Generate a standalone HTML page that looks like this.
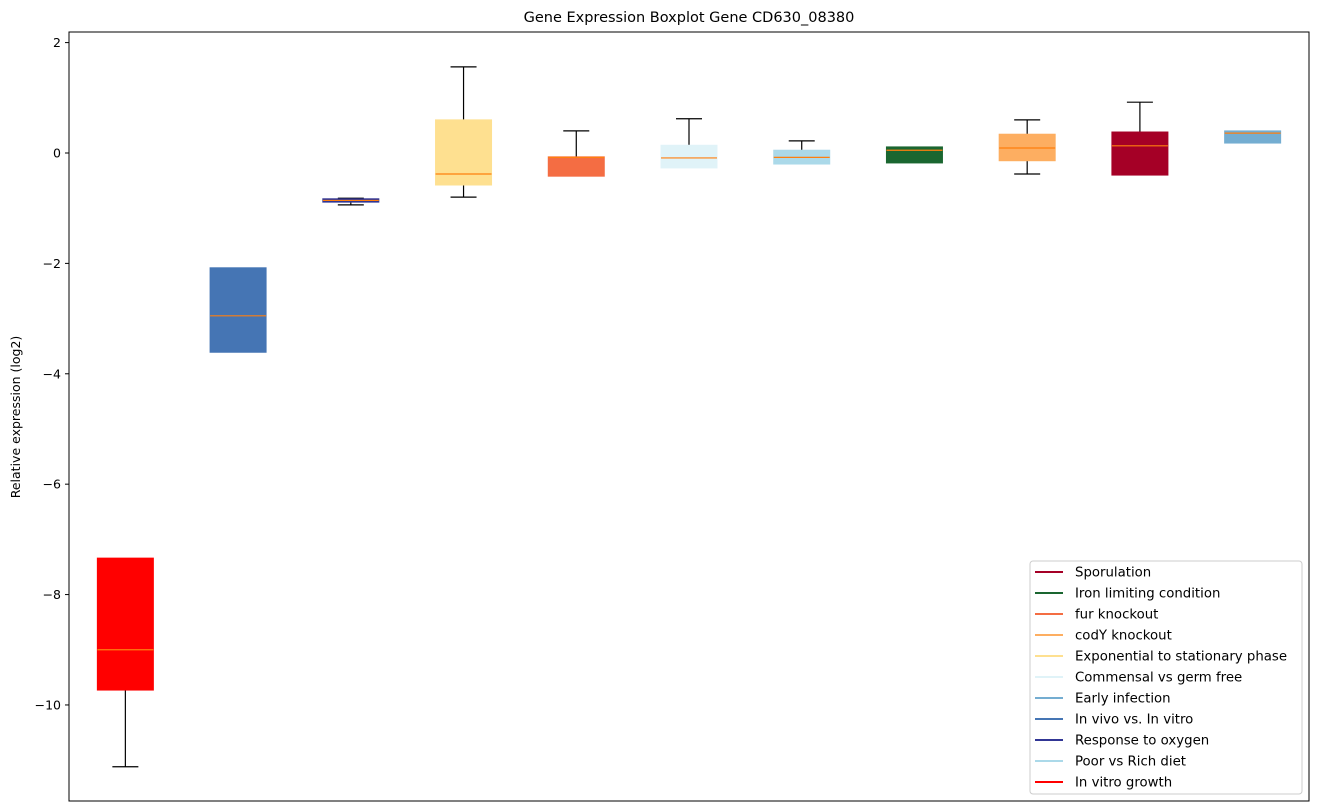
<!DOCTYPE html>
<html><head><meta charset="utf-8"><style>
body{margin:0;background:#fff;}
svg{display:block;font-family:"DejaVu Sans","Liberation Sans",sans-serif;}
</style></head><body>
<svg id="chart" width="1318" height="812">
<text x="689" y="22" text-anchor="middle" font-size="14.5">Gene Expression Boxplot Gene CD630_08380</text>
<text transform="translate(20,417) rotate(-90)" text-anchor="middle" font-size="12.5">Relative expression (log2)</text>
<g id="ticks"></g>
<g id="boxes"></g>
<rect x="69" y="32" width="1240" height="769" fill="none" stroke="#000" stroke-width="1"/>
<g id="legend"></g>
</svg>
<script>
const categories=["In vitro growth","In vivo vs. In vitro","Response to oxygen","Exponential to stationary phase","fur knockout","Commensal vs germ free","Poor vs Rich diet","Iron limiting condition","codY knockout","Sporulation","Early infection"];
const colors=["#ff0000","#4575b4","#313695","#fee090","#f46d43","#e0f3f8","#abd9e9","#1a6630","#fdae61","#a50026","#74add1"];
const q1=[-9.73,-3.61,-0.89,-0.58,-0.42,-0.27,-0.20,-0.18,-0.14,-0.40,0.18];
const q3=[-7.34,-2.08,-0.83,0.60,-0.07,0.14,0.05,0.11,0.34,0.38,0.40];
const medians=[-9.0,-2.95,-0.86,-0.38,-0.08,-0.09,-0.08,0.05,0.09,0.13,0.36];
const whiskLo=[-11.12,-3.61,-0.94,-0.80,-0.42,-0.27,-0.20,-0.18,-0.38,-0.40,0.18];
const whiskHi=[-7.34,-2.08,-0.82,1.56,0.40,0.62,0.22,0.11,0.60,0.92,0.40];
const yTicks=[2,0,-2,-4,-6,-8,-10];
const legendOrder=["Sporulation","Iron limiting condition","fur knockout","codY knockout","Exponential to stationary phase","Commensal vs germ free","Early infection","In vivo vs. In vitro","Response to oxygen","Poor vs Rich diet","In vitro growth"];
const NS="http://www.w3.org/2000/svg";
const X0=69,X1=1309,Y0=32,Y1=801,ymax=2.192,ymin=-11.74;
const y=v=>Y0+(ymax-v)/(ymax-ymin)*(Y1-Y0);
const x=i=>X0+(i+0.5)*(X1-X0)/categories.length;
function mk(tag,attrs,parent){const e=document.createElementNS(NS,tag);for(const k in attrs)e.setAttribute(k,attrs[k]);parent.appendChild(e);return e;}
const tg=document.getElementById('ticks');
yTicks.forEach(t=>{
 const l=mk('line',{x1:X0-4,x2:X0,y1:y(t),y2:y(t),stroke:'#000'},tg);
 
 
 const tx=mk('text',{x:X0-8,y:y(t)+4.5,'text-anchor':'end','font-size':'12.5'},tg);
 tx.textContent=String(t).replace('-','\u2212');
 
 
});
const bg=document.getElementById('boxes');
categories.forEach((c,i)=>{
 const g=mk('g',{},bg);
 
 
 const cx=x(i),hw=28,cw=13;
 if(whiskHi[i]>q3[i]){mk('line',{x1:cx,x2:cx,y1:y(q3[i]),y2:y(whiskHi[i]),stroke:'#000','stroke-width':1.2},g);
  mk('line',{x1:cx-cw,x2:cx+cw,y1:y(whiskHi[i]),y2:y(whiskHi[i]),stroke:'#000','stroke-width':1.2},g);}
 if(whiskLo[i]<q1[i]){mk('line',{x1:cx,x2:cx,y1:y(q1[i]),y2:y(whiskLo[i]),stroke:'#000','stroke-width':1.2},g);
  mk('line',{x1:cx-cw,x2:cx+cw,y1:y(whiskLo[i]),y2:y(whiskLo[i]),stroke:'#000','stroke-width':1.2},g);}
 const top=y(q3[i]),bot=y(q1[i]);
 mk('rect',{x:cx-hw,y:top,width:2*hw,height:Math.max(bot-top,1.5),fill:colors[i],stroke:colors[i],'stroke-width':1},g);
 mk('line',{x1:cx-hw,x2:cx+hw,y1:y(medians[i]),y2:y(medians[i]),stroke:'#ff7f0e','stroke-width':1.2},g);
});
const lg=document.getElementById('legend');
const lb=mk('rect',{x:1030,y:561,width:272,height:233,rx:3,fill:'#fff',stroke:'#ccc'},lg);


legendOrder.forEach((n,k)=>{
 const ci=categories.indexOf(n),yy=572+k*21;
 const g=mk('g',{},lg);
 
 
 mk('line',{x1:1035,x2:1063,y1:yy,y2:yy,stroke:colors[ci],'stroke-width':2},g);
 const t=mk('text',{x:1075,y:yy+4.5,'font-size':'13.3',textLength:null},g);t.removeAttribute('textLength');t.textContent=n;
});
</script>
</body></html>
